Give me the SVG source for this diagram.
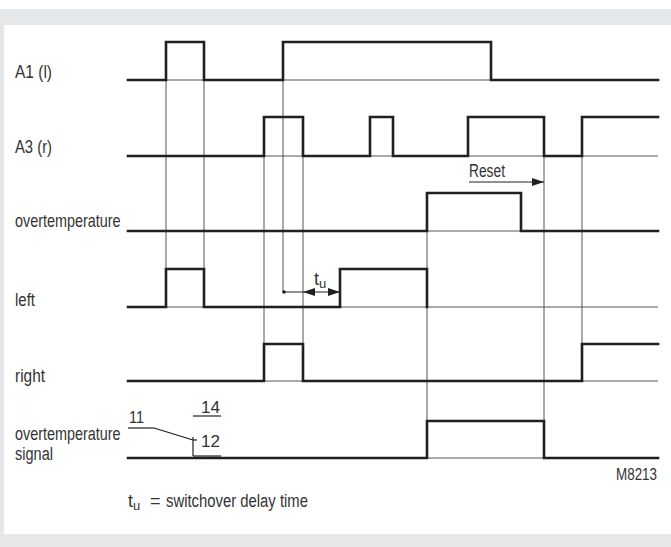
<svg xmlns="http://www.w3.org/2000/svg" width="671" height="547" viewBox="0 0 671 547">
<style>
.bg{fill:#e6e7e8}
.panel{fill:#ffffff}
.sig{fill:none;stroke:#231f20;stroke-width:2.6;stroke-linejoin:miter;stroke-linecap:square}
.ref{fill:none;stroke:#555;stroke-width:1}
.thin{fill:none;stroke:#231f20;stroke-width:1.2}
.lbl{font-family:"Liberation Sans",Arial,sans-serif;font-size:18px;fill:#333}
.sm{font-family:"Liberation Sans",Arial,sans-serif;font-size:16px;fill:#333}
</style>
<defs>
<marker id="ah" viewBox="0 0 12 8" refX="12" refY="4" markerWidth="12" markerHeight="8" markerUnits="userSpaceOnUse" orient="auto">
<path d="M0,0 L12,4 L0,8 Z" fill="#231f20"/>
</marker>
</defs>
<rect x="0" y="0" width="671" height="547" class="panel"/>
<rect x="0" y="9" width="671" height="538" class="bg"/>
<rect x="4" y="25" width="667" height="509" class="panel"/>

<g id="connectors">
<line class="ref" x1="128" y1="80" x2="658" y2="80"/>
<line class="ref" x1="128" y1="156" x2="658" y2="156"/>
<line class="ref" x1="128" y1="231" x2="658" y2="231"/>
<line class="ref" x1="128" y1="307" x2="658" y2="307"/>
<line class="ref" x1="128" y1="381" x2="658" y2="381"/>
<line class="ref" x1="128" y1="458" x2="658" y2="458"/>
<line class="ref" x1="166" y1="42" x2="166" y2="307"/>
<line class="ref" x1="204" y1="42" x2="204" y2="307"/>
<line class="ref" x1="283" y1="42" x2="283" y2="292"/>
<line class="ref" x1="264" y1="117" x2="264" y2="381"/>
<line class="ref" x1="303" y1="117" x2="303" y2="381"/>
<line class="ref" x1="427" y1="193" x2="427" y2="458"/>
<line class="ref" x1="544" y1="117" x2="544" y2="458"/>
<line class="ref" x1="582" y1="156" x2="582" y2="381"/>
<line class="thin" x1="469" y1="182" x2="544" y2="182" marker-end="url(#ah)"/>
<circle cx="284" cy="292" r="1.8" fill="#231f20"/>
<line class="thin" x1="284" y1="292" x2="340" y2="292" marker-end="url(#ah)"/>
<path d="M303,292 L315,288 L315,296 Z" fill="#231f20"/>
</g>

<g id="sig-a1"><path class="sig" d="M128,80 H166 V42 H204 V80 H283 V42 H491 V80 H658"/></g>
<g id="sig-a3"><path class="sig" d="M128,156 H264 V117 H303 V156 H370 V117 H393 V156 H468 V117 H544 V156 H582 V117 H658"/></g>
<g id="sig-ot"><path class="sig" d="M128,231 H427 V193 H521 V231 H658"/></g>
<g id="sig-left"><path class="sig" d="M128,307 H166 V269 H204 V307 H340 V269 H427 V307"/></g>
<g id="sig-right"><path class="sig" d="M128,381 H264 V344 H303 V381 H582 V344 H658"/></g>
<g id="sig-ots"><path class="sig" d="M128,458 H427 V421 H544 V458 H658"/></g>

<g id="contact">
<line class="thin" x1="128" y1="428" x2="154" y2="428"/>
<line class="thin" x1="154" y1="428" x2="193" y2="440"/>
<line class="thin" x1="193" y1="440" x2="197" y2="440"/>
<line class="thin" x1="193" y1="437" x2="193" y2="456"/>
<line class="thin" x1="193" y1="456" x2="221" y2="456"/>
<line class="thin" x1="193" y1="416" x2="221" y2="416"/>
<text class="sm" x="129" y="423" textLength="15" lengthAdjust="spacingAndGlyphs">11</text>
<text class="sm" x="201" y="413" textLength="19" lengthAdjust="spacingAndGlyphs">14</text>
<text class="sm" x="201" y="447" textLength="19" lengthAdjust="spacingAndGlyphs">12</text>
</g>

<g id="labels">
<text class="lbl" x="15" y="78" textLength="37" lengthAdjust="spacingAndGlyphs">A1 (l)</text>
<text class="lbl" x="15" y="153" textLength="37" lengthAdjust="spacingAndGlyphs">A3 (r)</text>
<text class="lbl" transform="translate(15,227) scale(0.8,1)" x="0" y="0">overtemperature</text>
<text class="lbl" x="15" y="306" textLength="20" lengthAdjust="spacingAndGlyphs">left</text>
<text class="lbl" x="15" y="382" textLength="30" lengthAdjust="spacingAndGlyphs">right</text>
<text class="lbl" transform="translate(15,440) scale(0.8,1)" x="0" y="0">overtemperature</text>
<text class="lbl" x="15" y="460" textLength="38" lengthAdjust="spacingAndGlyphs">signal</text>
<text class="lbl" x="469" y="177" textLength="36" lengthAdjust="spacingAndGlyphs">Reset</text>
<text class="lbl" x="314" y="285">t<tspan font-size="13" dy="3">u</tspan></text>
<text class="sm" x="616" y="480" textLength="41" lengthAdjust="spacingAndGlyphs">M8213</text>
<text class="lbl" x="128" y="507">t<tspan font-size="13" dy="3">u</tspan></text>
<text class="lbl" x="150" y="507">=</text>
<text class="lbl" x="166" y="507" textLength="142" lengthAdjust="spacingAndGlyphs">switchover delay time</text>
</g>
</svg>
